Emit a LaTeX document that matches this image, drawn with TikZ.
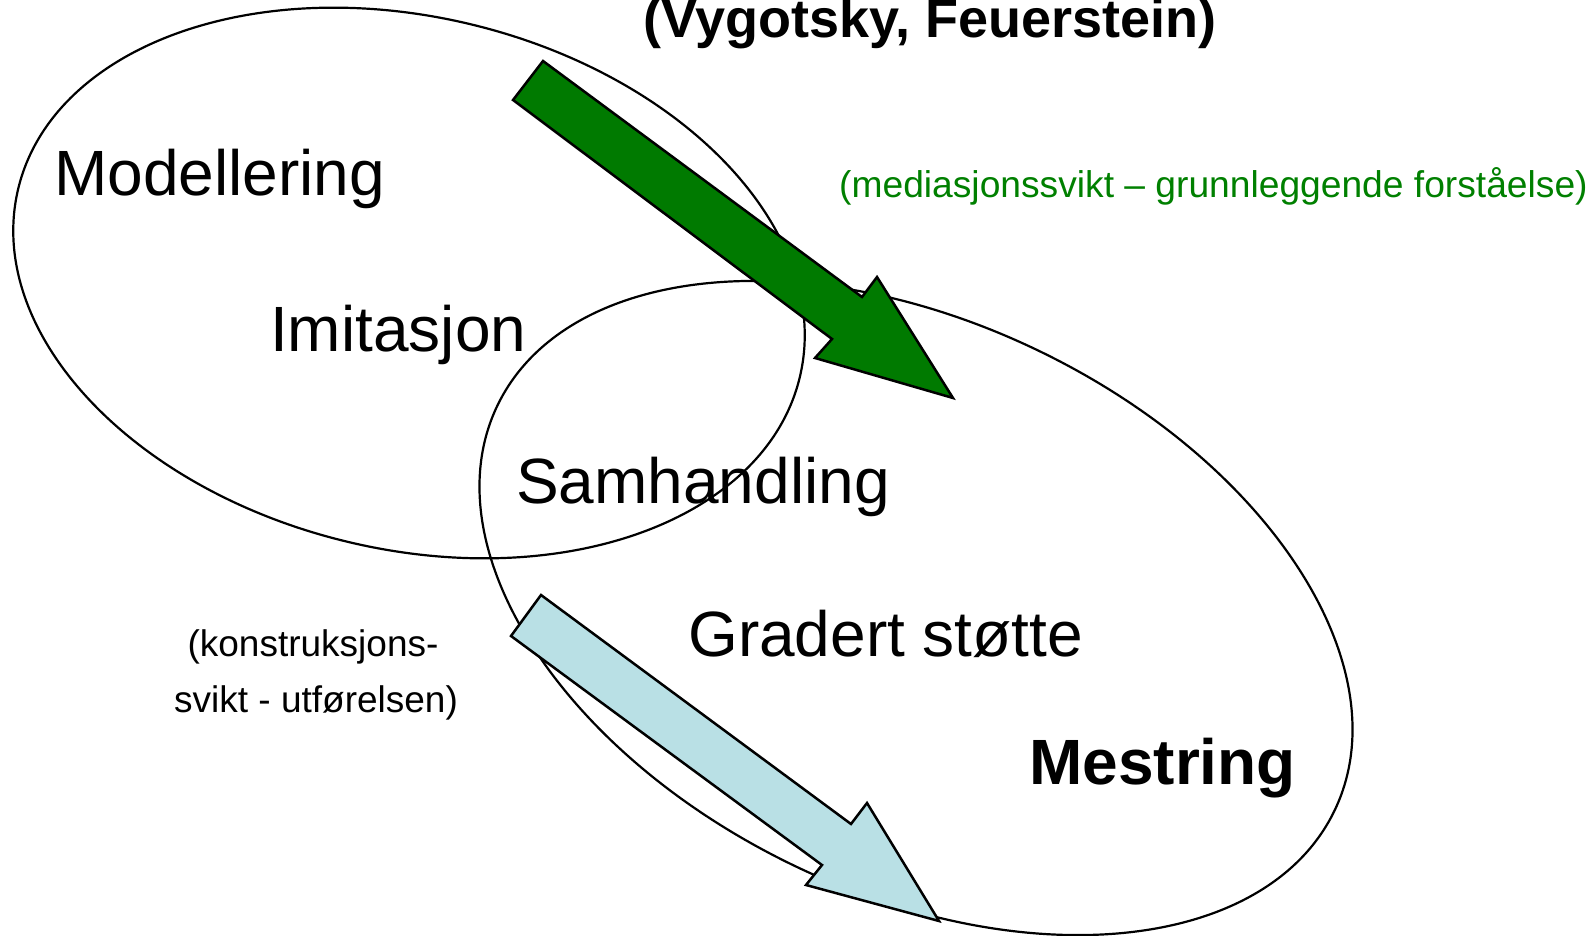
\documentclass[tikz,border=0pt]{standalone}
\usepackage{fontspec}
\setmainfont{Liberation Sans}
\definecolor{arrowgreen}{RGB}{0,122,0}
\definecolor{textgreen}{RGB}{0,128,0}
\definecolor{arrowblue}{RGB}{185,224,229}
\begin{document}
\begin{tikzpicture}[x=1pt,y=-1pt,
  lbl/.style={inner sep=0pt, anchor=base west},
  bigtxt/.style={lbl, font=\fontsize{64}{77}\selectfont},
  smalltxt/.style={inner sep=0pt, anchor=base, font=\fontsize{37}{45}\selectfont},
  oval/.style={line width=2.2pt},
  blockarrow/.style={line width=2.5pt, line join=miter}]
\fill[white] (0,0) rectangle (1595,936);
\useasboundingbox (0,0) rectangle (1595,936);
% ellipses
\draw[oval, rotate around={-13.6:(409,283)}] (409,283) ellipse [x radius=402, y radius=266];
\draw[oval, rotate around={-25.9:(916,608)}] (916,608) ellipse [x radius=465, y radius=285];
% arrows
\draw[blockarrow, fill=arrowgreen] (513,100) -- (543,61) -- (862,297) -- (877,277) -- (953,398) -- (815,358) -- (832,339) -- cycle;
\draw[blockarrow, fill=arrowblue] (511,636) -- (541,595) -- (851,824) -- (867,803) -- (939,921) -- (806,885) -- (822,865) -- cycle;
% texts
\node[lbl, font=\bfseries\fontsize{54}{65}\selectfont] (title) at (643,38) {(Vygotsky, Feuerstein)};
\node[bigtxt] (mod) at (54,196) {Modellering};
\node[bigtxt] (imi) at (270,351) {Imitasjon};
\node[bigtxt] (sam) at (516,503) {Samhandling};
\node[bigtxt] (grad) at (688,656) {Gradert støtte};
\node[bigtxt, font=\bfseries\fontsize{64}{77}\selectfont] (mes) at (1029,784) {Mestring};
\node[lbl, text=textgreen, font=\fontsize{37.2}{45}\selectfont] (med) at (839,197) {(mediasjonssvikt – grunnleggende forståelse)};
\node[smalltxt] (k1) at (313,656) {(konstruksjons-};
\node[smalltxt] (k2) at (316,712) {svikt - utførelsen)};
\end{tikzpicture}
\end{document}
